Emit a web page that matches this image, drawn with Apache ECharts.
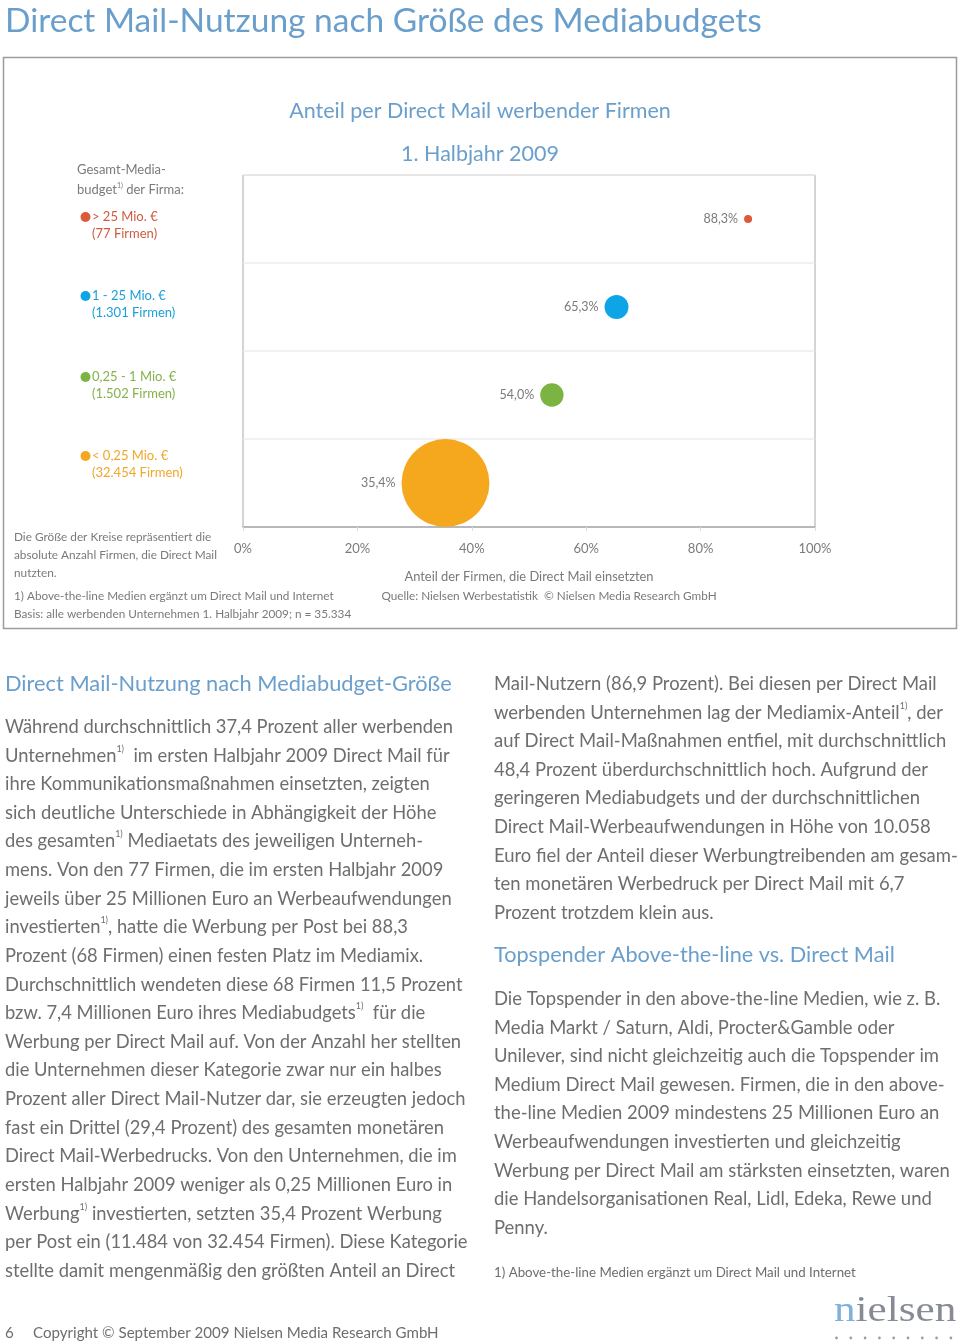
<!DOCTYPE html>
<html><head><meta charset="utf-8">
<script src="https://cdn.jsdelivr.net/npm/echarts@6/dist/echarts.min.js"></script>
<style>html,body{margin:0;padding:0;background:#fff}#c{width:960px;height:1343px}</style>
</head><body><div id="c"></div>
<script>
// ---- data ----
const categories = ['> 25 Mio. €', '1 - 25 Mio. €', '0,25 - 1 Mio. €', '< 0,25 Mio. €'];
const firmCounts = ['77', '1.301', '1.502', '32.454'];
const shareValues = [88.3, 65.3, 54.0, 35.4];           // % using Direct Mail
const directMailUsers = [68, 850, 811, 11484];           // absolute firms using Direct Mail (bubble size)
const seriesColors = ['#dc5a3c', '#0ea5e6', '#7bb443', '#f5a71e'];
const legendColors = ['#cf5b40', '#1a9fd8', '#85b24b', '#efa72c'];
const xTickLabels = ['0%', '20%', '40%', '60%', '80%', '100%'];

const leftLines = [
  'Während durchschnittlich 37,4 Prozent aller werbenden',
  'Unternehmen{s|1)}  im ersten Halbjahr 2009 Direct Mail für',
  'ihre Kommunikationsmaßnahmen einsetzten, zeigten',
  'sich deutliche Unterschiede in Abhängigkeit der Höhe',
  'des gesamten{s|1)} Mediaetats des jeweiligen Unterneh-',
  'mens. Von den 77 Firmen, die im ersten Halbjahr 2009',
  'jeweils über 25 Millionen Euro an Werbeaufwendungen',
  'investierten{s|1)}, hatte die Werbung per Post bei 88,3',
  'Prozent (68 Firmen) einen festen Platz im Mediamix.',
  'Durchschnittlich wendeten diese 68 Firmen 11,5 Prozent',
  'bzw. 7,4 Millionen Euro ihres Mediabudgets{s|1)}  für die',
  'Werbung per Direct Mail auf. Von der Anzahl her stellten',
  'die Unternehmen dieser Kategorie zwar nur ein halbes',
  'Prozent aller Direct Mail-Nutzer dar, sie erzeugten jedoch',
  'fast ein Drittel (29,4 Prozent) des gesamten monetären',
  'Direct Mail-Werbedrucks. Von den Unternehmen, die im',
  'ersten Halbjahr 2009 weniger als 0,25 Millionen Euro in',
  'Werbung{s|1)} investierten, setzten 35,4 Prozent Werbung',
  'per Post ein (11.484 von 32.454 Firmen). Diese Kategorie',
  'stellte damit mengenmäßig den größten Anteil an Direct'
];
const rightLines1 = [
  'Mail-Nutzern (86,9 Prozent). Bei diesen per Direct Mail',
  'werbenden Unternehmen lag der Mediamix-Anteil{s|1)}, der',
  'auf Direct Mail-Maßnahmen entfiel, mit durchschnittlich',
  '48,4 Prozent überdurchschnittlich hoch. Aufgrund der',
  'geringeren Mediabudgets und der durchschnittlichen',
  'Direct Mail-Werbeaufwendungen in Höhe von 10.058',
  'Euro fiel der Anteil dieser Werbungtreibenden am gesam-',
  'ten monetären Werbedruck per Direct Mail mit 6,7',
  'Prozent trotzdem klein aus.'
];
const rightLines2 = [
  'Die Topspender in den above-the-line Medien, wie z. B.',
  'Media Markt / Saturn, Aldi, Procter&Gamble oder',
  'Unilever, sind nicht gleichzeitig auch die Topspender im',
  'Medium Direct Mail gewesen. Firmen, die in den above-',
  'the-line Medien 2009 mindestens 25 Millionen Euro an',
  'Werbeaufwendungen investierten und gleichzeitig',
  'Werbung per Direct Mail am stärksten einsetzten, waren',
  'die Handelsorganisationen Real, Lidl, Edeka, Rewe und',
  'Penny.'
];

// ---- styling helpers ----
const FONT = 'Lato, "Noto Sans", sans-serif';
const BLUE = '#6a9fcc';
const GRAY = '#6e6e6e';
const LGRAY = '#7a7a7a';

function txt(x, y, text, size, color, opts) {
  opts = opts || {};
  const sup = Math.round(size * 0.5);
  return {
    type: 'text', x: x, y: y, silent: true,
    scaleX: opts.scaleX || 1,
    style: {
      text: text, fill: color, fontSize: size, fontFamily: FONT,
      fontWeight: opts.weight || 'normal',
      align: opts.align || 'left', verticalAlign: 'middle',
      textAlign: opts.align || 'left', textVerticalAlign: 'middle',
      lineHeight: Math.round(size * 1.25),
      rich: { s: { fontSize: sup, fontFamily: FONT, fill: color, verticalAlign: 'top', lineHeight: Math.round(size * 1.25) } }
    }
  };
}

const graphics = [];
// page title
graphics.push(txt(5, 21, 'Direct Mail-Nutzung nach Größe des Mediabudgets', 33.5, BLUE));
// chart box
graphics.push({ type: 'rect', silent: true, shape: { x: 3.5, y: 57.5, width: 953, height: 571 },
  style: { fill: 'none', stroke: '#9c9c9c', lineWidth: 1.5 } });
// chart titles
graphics.push(txt(480, 111, 'Anteil per Direct Mail werbender Firmen', 21.5, BLUE, { align: 'center' }));
graphics.push(txt(480, 154, '1. Halbjahr 2009', 21.5, BLUE, { align: 'center' }));
// legend header
graphics.push(txt(77, 170, 'Gesamt-Media-', 13, LGRAY));
graphics.push(txt(77, 190, 'budget{s|1)} der Firma:', 13, LGRAY));
const legendY = [217, 296, 377, 456];
categories.forEach((c, i) => {
  graphics.push({ type: 'circle', silent: true, shape: { cx: 85.5, cy: legendY[i], r: 5 }, style: { fill: seriesColors[i] } });
  graphics.push(txt(92, legendY[i], c, 13, legendColors[i]));
  graphics.push(txt(92, legendY[i] + 17, '(' + firmCounts[i] + ' Firmen)', 13, legendColors[i]));
});
// notes in chart
graphics.push(txt(14, 537, 'Die Größe der Kreise repräsentiert die', 11.8, LGRAY));
graphics.push(txt(14, 555, 'absolute Anzahl Firmen, die Direct Mail', 11.8, LGRAY));
graphics.push(txt(14, 573, 'nutzten.', 11.8, LGRAY));
graphics.push(txt(14, 596, '1) Above-the-line Medien ergänzt um Direct Mail und Internet', 11.75, LGRAY));
graphics.push(txt(14, 614, 'Basis: alle werbenden Unternehmen 1. Halbjahr 2009; n = 35.334', 11.75, LGRAY));
graphics.push(txt(529, 577, 'Anteil der Firmen, die Direct Mail einsetzten', 12.9, LGRAY, { align: 'center' }));
graphics.push(txt(549, 596, 'Quelle: Nielsen Werbestatistik  © Nielsen Media Research GmbH', 11.75, LGRAY, { align: 'center' }));

// body text
const LH = 28.63;
graphics.push(txt(5, 684, 'Direct Mail-Nutzung nach Mediabudget-Größe', 21.8, BLUE));
leftLines.forEach((l, i) => graphics.push(txt(5, 727 + i * LH, l, 18.35, GRAY)));
rightLines1.forEach((l, i) => graphics.push(txt(494, 684 + i * LH, l, 18.45, GRAY)));
graphics.push(txt(494, 955, 'Topspender Above-the-line vs. Direct Mail', 21.7, BLUE));
rightLines2.forEach((l, i) => graphics.push(txt(494, 999 + i * LH, l, 18.45, GRAY)));
graphics.push(txt(494, 1273, '1) Above-the-line Medien ergänzt um Direct Mail und Internet', 13.3, GRAY));

// footer
graphics.push(txt(5, 1333, '6', 15.2, GRAY));
graphics.push(txt(33, 1333, 'Copyright © September 2009 Nielsen Media Research GmbH', 15.1, GRAY));
// nielsen logo
graphics.push({ type: 'text', x: 834, y: 1330, silent: true, scaleX: 1.2,
  style: { text: '{b|n}ielsen', fill: '#868b93', fontSize: 36, fontFamily: '"Liberation Serif", "DejaVu Serif", serif',
    align: 'left', verticalAlign: 'bottom', textAlign: 'left', textVerticalAlign: 'bottom',
    rich: { b: { fill: '#7fb1da', fontSize: 36, fontFamily: '"Liberation Serif", serif' } } } });
for (let k = 0; k < 9; k++) {
  graphics.push({ type: 'circle', silent: true, shape: { cx: 836.5 + k * 14.3, cy: 1338, r: 1.4 }, style: { fill: '#9aa0a8' } });
}

const chart = echarts.init(document.getElementById('c'), null, { renderer: 'canvas' });
chart.setOption({
  animation: false,
  backgroundColor: '#fff',
  textStyle: { fontFamily: FONT },
  grid: { left: 243, top: 175, width: 572, height: 352, show: true, borderColor: '#a9a9a9', borderWidth: 1, containLabel: false },
  xAxis: {
    type: 'value', min: 0, max: 100, interval: 20,
    axisLine: { show: true, lineStyle: { color: '#a9a9a9', width: 1.5 } },
    axisTick: { show: true, length: 4, lineStyle: { color: '#dddddd' } },
    splitLine: { show: false },
    axisLabel: { color: LGRAY, fontSize: 13, margin: 15, fontFamily: FONT,
      formatter: (v) => xTickLabels[Math.round(v / 20)] }
  },
  yAxis: {
    type: 'category', data: categories, inverse: true,
    axisLine: { show: false }, axisTick: { show: false }, axisLabel: { show: false },
    splitLine: { show: true, lineStyle: { color: '#ececec', width: 1.5 } }
  },
  series: [{
    type: 'scatter',
    clip: false,
    data: shareValues.map((v, i) => ({
      value: [v, categories[i]],
      symbolSize: Math.max(8, 0.82 * Math.sqrt(directMailUsers[i])),
      itemStyle: { color: seriesColors[i], opacity: 1 }
    })),
    label: {
      show: true, position: 'left', distance: 6, color: LGRAY, fontSize: 12.5, fontFamily: FONT,
      formatter: (p) => p.value[0].toFixed(1).replace('.', ',') + '%'
    },
    emphasis: { disabled: true }
  }],
  graphic: { elements: graphics }
});
</script></body></html>
